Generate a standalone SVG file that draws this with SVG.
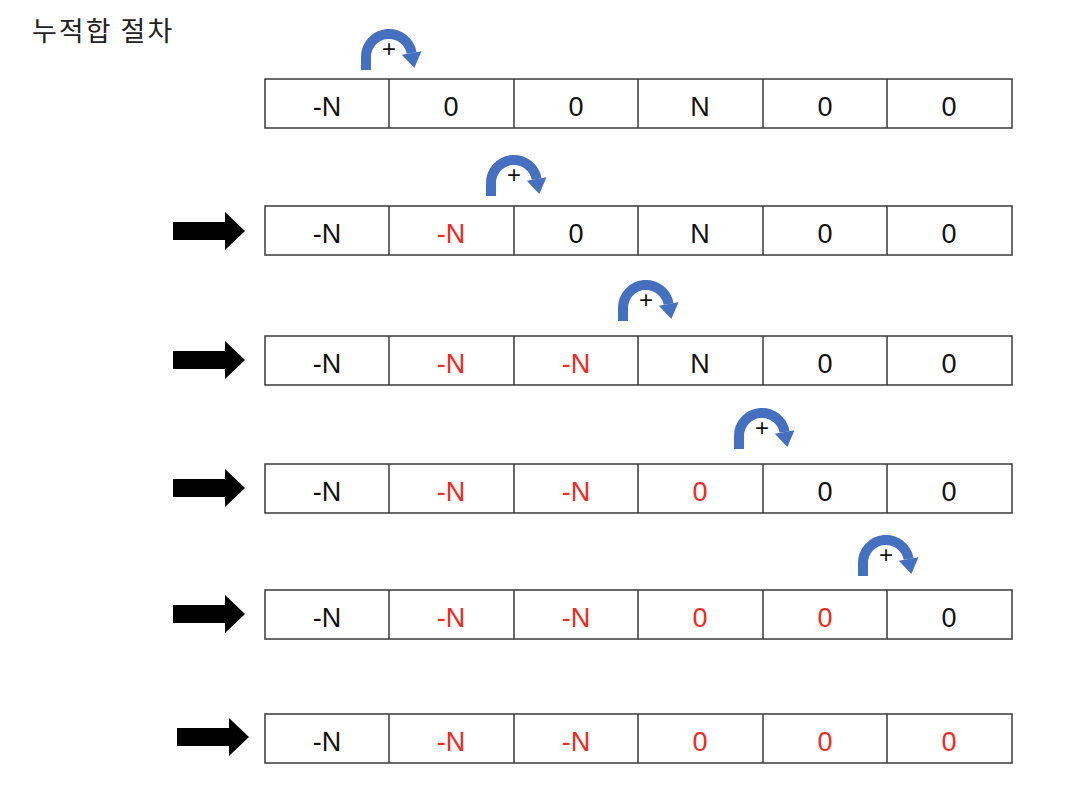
<svg xmlns="http://www.w3.org/2000/svg" xmlns:xlink="http://www.w3.org/1999/xlink" width="1068" height="794" viewBox="0 0 1068 794">
<style>
.cell{fill:#fff;stroke:#3a3a3a;stroke-width:1.5}
.t{font-family:"Liberation Sans",Arial,sans-serif;font-size:27px;text-anchor:middle;fill:#111}
.r{fill:#f02a20}
.title{font-family:"Noto Sans CJK KR","Noto Sans",sans-serif;font-size:27px;letter-spacing:2px;fill:#222}
.plus{font-family:"Liberation Sans",Arial,sans-serif;font-size:24px;text-anchor:middle;fill:#111}
</style>
<defs>
<g id="curl">
<path d="M-23,41 L-23,28 A23,23 0 0 1 22.65,24" fill="none" stroke="#4470bf" stroke-width="10"/>
<polygon points="12.8,25.7 32.5,22.3 25.3,39" fill="#4470bf"/>
</g>
<polygon id="bigarrow" points="0,10 52,10 52,0 72,19 52,38 52,28 0,28" fill="#000"/>
</defs>
<rect width="1068" height="794" fill="#fff"/>
<text class="title" x="32" y="41">누적합 절차</text>

<g id="curls">
<use xlink:href="#curl" x="389" y="29"/><text class="plus" x="389" y="57">+</text>
<use xlink:href="#curl" x="514" y="155"/><text class="plus" x="514" y="183">+</text>
<use xlink:href="#curl" x="646" y="280"/><text class="plus" x="646" y="308">+</text>
<use xlink:href="#curl" x="762" y="408"/><text class="plus" x="762" y="436">+</text>
<use xlink:href="#curl" x="886" y="535"/><text class="plus" x="886" y="563">+</text>
</g>

<g id="connectors">
<use xlink:href="#bigarrow" x="173" y="212"/>
<use xlink:href="#bigarrow" x="173" y="341"/>
<use xlink:href="#bigarrow" x="173" y="469"/>
<use xlink:href="#bigarrow" x="173" y="595"/>
<use xlink:href="#bigarrow" x="177" y="718"/>
</g>

<g id="row1">
<rect class="cell" x="265" y="79" width="747" height="49"/>
<path d="M389,79V128M514,79V128M638,79V128M763,79V128M887,79V128" stroke="#3a3a3a" stroke-width="1.5"/>
<text class="t" x="327" y="116">-N</text><text class="t" x="451" y="116">0</text><text class="t" x="576" y="116">0</text><text class="t" x="700" y="116">N</text><text class="t" x="825" y="116">0</text><text class="t" x="949" y="116">0</text>
</g>
<g id="row2">
<rect class="cell" x="265" y="206" width="747" height="49"/>
<path d="M389,206V255M514,206V255M638,206V255M763,206V255M887,206V255" stroke="#3a3a3a" stroke-width="1.5"/>
<text class="t" x="327" y="243">-N</text><text class="t r" x="451" y="243">-N</text><text class="t" x="576" y="243">0</text><text class="t" x="700" y="243">N</text><text class="t" x="825" y="243">0</text><text class="t" x="949" y="243">0</text>
</g>
<g id="row3">
<rect class="cell" x="265" y="336" width="747" height="49"/>
<path d="M389,336V385M514,336V385M638,336V385M763,336V385M887,336V385" stroke="#3a3a3a" stroke-width="1.5"/>
<text class="t" x="327" y="373">-N</text><text class="t r" x="451" y="373">-N</text><text class="t r" x="576" y="373">-N</text><text class="t" x="700" y="373">N</text><text class="t" x="825" y="373">0</text><text class="t" x="949" y="373">0</text>
</g>
<g id="row4">
<rect class="cell" x="265" y="464" width="747" height="49"/>
<path d="M389,464V513M514,464V513M638,464V513M763,464V513M887,464V513" stroke="#3a3a3a" stroke-width="1.5"/>
<text class="t" x="327" y="501">-N</text><text class="t r" x="451" y="501">-N</text><text class="t r" x="576" y="501">-N</text><text class="t r" x="700" y="501">0</text><text class="t" x="825" y="501">0</text><text class="t" x="949" y="501">0</text>
</g>
<g id="row5">
<rect class="cell" x="265" y="590" width="747" height="49"/>
<path d="M389,590V639M514,590V639M638,590V639M763,590V639M887,590V639" stroke="#3a3a3a" stroke-width="1.5"/>
<text class="t" x="327" y="627">-N</text><text class="t r" x="451" y="627">-N</text><text class="t r" x="576" y="627">-N</text><text class="t r" x="700" y="627">0</text><text class="t r" x="825" y="627">0</text><text class="t" x="949" y="627">0</text>
</g>
<g id="row6">
<rect class="cell" x="265" y="714" width="747" height="49"/>
<path d="M389,714V763M514,714V763M638,714V763M763,714V763M887,714V763" stroke="#3a3a3a" stroke-width="1.5"/>
<text class="t" x="327" y="751">-N</text><text class="t r" x="451" y="751">-N</text><text class="t r" x="576" y="751">-N</text><text class="t r" x="700" y="751">0</text><text class="t r" x="825" y="751">0</text><text class="t r" x="949" y="751">0</text>
</g>
</svg>
